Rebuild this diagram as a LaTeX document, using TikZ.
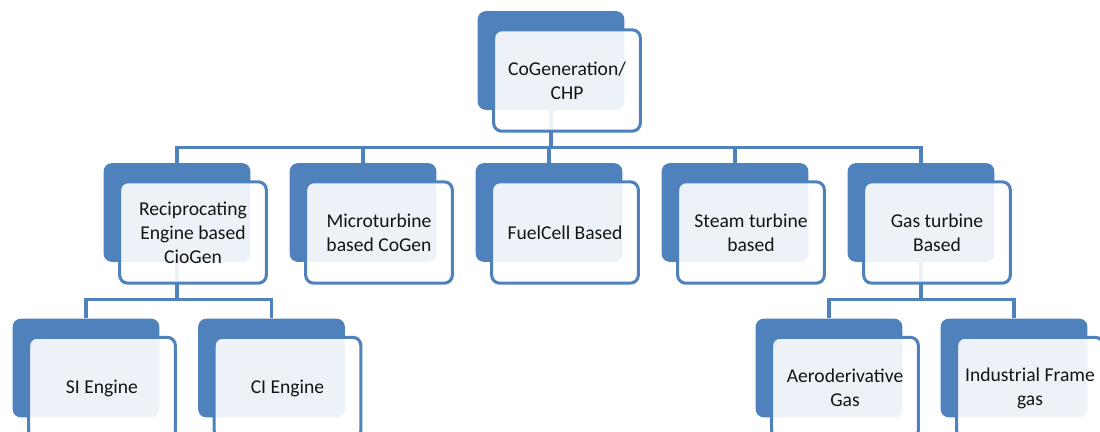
\documentclass[tikz,border=0pt]{standalone}
\usepackage{fontspec}
\setmainfont{Carlito}
\usepackage{tikz}
\usetikzlibrary{positioning,calc}
\definecolor{chpblue}{RGB}{79,129,189}
\definecolor{chptext}{RGB}{20,20,20}
\tikzset{
  back box/.style={
    fill=chpblue,
    rounded corners=6pt,
    minimum width=110pt,
    minimum height=74pt,
    inner sep=0pt,
  },
  front box/.style={
    draw=chpblue,
    fill=white,
    fill opacity=0.9,
    text opacity=1,
    line width=2.3pt,
    rounded corners=6pt,
    minimum width=110pt,
    minimum height=76pt,
    inner sep=0pt,
    xshift=12pt,
    yshift=-15pt,
    align=center,
    text=chptext,
    font=\fontsize{14.7}{18}\selectfont,
  },
  chp link/.style={
    draw=chpblue,
    line width=2.3pt,
  },
}

\begin{document}
\begin{tikzpicture}[x=0.75pt,y=-0.75pt]
  \useasboundingbox (0,0) rectangle (1100,432);
  % back boxes
  \node[back box] (chp) at (551,60.5) {};
  \node[back box] (rec) at (177,212.5) {};
  \node[back box] (mic) at (363,212.5) {};
  \node[back box] (fuel) at (549,212.5) {};
  \node[back box] (steam) at (735,212.5) {};
  \node[back box] (gas) at (921,212.5) {};
  \node[back box] (si) at (86,368) {};
  \node[back box] (ci) at (271.5,368) {};
  \node[back box] (aero) at (829,368) {};
  \node[back box] (ind) at (1014,368) {};
  % links
  \foreach \c in {rec,mic,fuel,steam,gas}
    \draw[chp link] (chp.south) -- ++(0,37) -| (\c.north);
  \foreach \c in {si,ci}
    \draw[chp link] (rec.south) -- ++(0,37) -| (\c.north);
  \foreach \c in {aero,ind}
    \draw[chp link] (gas.south) -- ++(0,37) -| (\c.north);
  % front boxes
  \node[front box] (chpf) at (chp) {CoGeneration/\\CHP};
  \node[front box] (recf) at (rec) {Reciprocating\\Engine based\\CioGen};
  \node[front box] (micf) at (mic) {Microturbine\\based CoGen};
  \node[front box] (fuelf) at (fuel) {FuelCell Based};
  \node[front box] (steamf) at (steam) {Steam turbine\\based};
  \node[front box] (gasf) at (gas) {Gas turbine\\Based};
  \node[front box] (sif) at (si) {SI Engine};
  \node[front box] (cif) at (ci) {CI Engine};
  \node[front box] (aerof) at (aero) {Aeroderivative\\Gas};
  \node[front box] (indf) at (ind) {Industrial Frame\\gas};
\end{tikzpicture}
\end{document}
